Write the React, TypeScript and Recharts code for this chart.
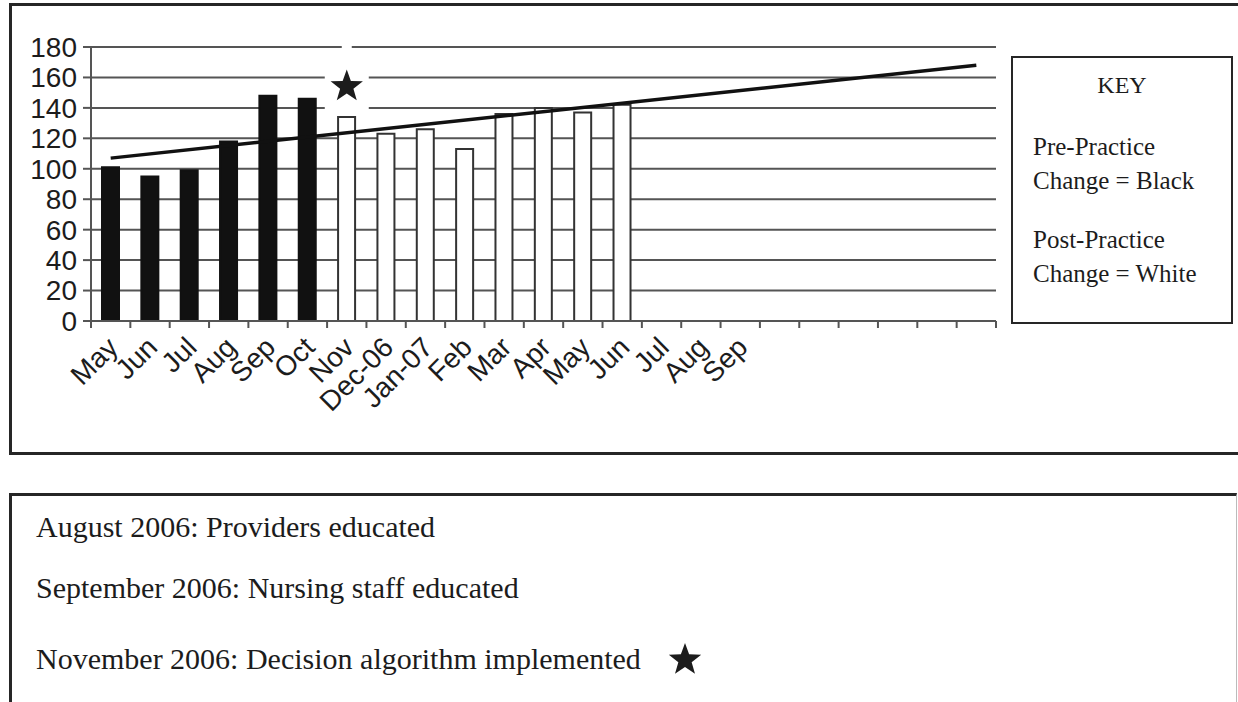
import { ComposedChart, Bar, Line, XAxis, YAxis, CartesianGrid, Cell, ReferenceDot } from "recharts";

// ── Dados ─────────────────────────────────────────────────────────────────────
const periods = [
  "2006-05", "2006-06", "2006-07", "2006-08", "2006-09", "2006-10", "2006-11", "2006-12",
  "2007-01", "2007-02", "2007-03", "2007-04", "2007-05", "2007-06", "2007-07", "2007-08",
  "2007-09", "2007-10", "2007-11", "2007-12", "2008-01", "2008-02", "2008-03",
];
const tickLabels = [
  "May", "Jun", "Jul", "Aug", "Sep", "Oct", "Nov", "Dec-06", "Jan-07", "Feb", "Mar", "Apr",
  "May", "Jun", "Jul", "Aug", "Sep", "", "", "", "", "", "",
];
const preCounts = [101, 95, 99, 118, 148, 146];
const postCounts = [134, 123, 126, 113, 136, 140, 137, 142];
const trendStart = 107;
const trendEnd = 168;
const yTicks = [0, 20, 40, 60, 80, 100, 120, 140, 160, 180];
const starPeriod = "2006-11";
const starValue = 154;

const counts = [...preCounts, ...postCounts];
const data = periods.map((p, i) => ({
  period: p,
  count: i < counts.length ? counts[i] : null,
  trend: i === 0 ? trendStart : i === periods.length - 1 ? trendEnd : null,
}));

// ── Layout ────────────────────────────────────────────────────────────────────
const W = 1238, CH = 460;
const MARGIN = { top: 47, right: 242, bottom: 39, left: 11 };
const Y_W = 80, X_H = 100;
const PLOT_W = W - MARGIN.left - Y_W - MARGIN.right;
const STEP = PLOT_W / periods.length;
const AXIS = "#555";
const INK = "#1c1c1c";

function starPoints(cx: number, cy: number, R: number, r: number) {
  const pts: string[] = [];
  for (let i = 0; i < 10; i++) {
    const a = -Math.PI / 2 + (i * Math.PI) / 5;
    const rad = i % 2 === 0 ? R : r;
    pts.push(`${cx + rad * Math.cos(a)},${cy + rad * Math.sin(a)}`);
  }
  return pts.join(" ");
}

function MonthTick(props: any) {
  const { x, y, payload } = props;
  const idx = periods.indexOf(payload.value);
  const half = STEP / 2;
  const ay = y - 2;
  return (
    <g>
      <line x1={x - half} x2={x - half} y1={ay} y2={ay + 7} stroke={AXIS} strokeWidth={2} />
      {idx === periods.length - 1 && (
        <line x1={x + half} x2={x + half} y1={ay} y2={ay + 7} stroke={AXIS} strokeWidth={2} />
      )}
      <text
        transform={`translate(${x + 9},${ay + 28}) rotate(-45)`}
        textAnchor="end"
        fontFamily="'Liberation Sans', Arial, sans-serif"
        fontSize={28}
        fill={INK}
      >
        {tickLabels[idx]}
      </text>
    </g>
  );
}

function StarMark(props: any) {
  const { cx, cy } = props;
  if (cx == null || cy == null) return null;
  return (
    <g>
      <rect x={cx - 5} y={cy - 44} width={10} height={20} fill="#fff" />
      <rect x={cx - 22} y={cy - 26} width={44} height={52} fill="#fff" />
      <polygon points={starPoints(cx, cy, 17, 7)} fill={INK} />
    </g>
  );
}

const serif = "'Liberation Serif', 'Times New Roman', serif";

export default function App() {
  return (
    <div style={{ position: "absolute", left: 0, top: 0, width: W, height: 702, background: "#fff", overflow: "hidden" }}>
      {/* moldura superior */}
      <div style={{ position: "absolute", left: 9, top: 3, width: 1240, height: 446, border: "3px solid #262626" }} />

      <div style={{ position: "absolute", left: 0, top: 0 }}>
        <ComposedChart width={W} height={CH} data={data} margin={MARGIN}>
          <CartesianGrid vertical={false} stroke={AXIS} strokeWidth={2} />
          <XAxis
            dataKey="period"
            interval={0}
            tickLine={false}
            tickSize={0}
            height={X_H}
            axisLine={{ stroke: AXIS, strokeWidth: 2 }}
            tick={<MonthTick />}
          />
          <YAxis
            domain={[0, 180]}
            ticks={yTicks}
            width={Y_W}
            interval={0}
            axisLine={{ stroke: AXIS, strokeWidth: 2 }}
            tickLine={{ stroke: AXIS, strokeWidth: 2 }}
            tickSize={8}
            tickMargin={6}
            tick={{ fontFamily: "'Liberation Sans', Arial, sans-serif", fontSize: 28, fill: INK }}
          />
          <YAxis
            yAxisId="r"
            orientation="right"
            domain={[0, 180]}
            width={0}
            tick={false}
            tickLine={false}
            axisLine={{ stroke: AXIS, strokeWidth: 2 }}
          />
          <Bar dataKey="count" barSize={17} isAnimationActive={false}>
            {data.map((d, i) => (
              <Cell
                key={d.period}
                fill={i < preCounts.length ? "#111" : "#fff"}
                stroke={d.count == null ? "none" : i < preCounts.length ? "#111" : "#333"}
                strokeWidth={2}
              />
            ))}
          </Bar>
          <Line
            dataKey="trend"
            connectNulls
            stroke="#111"
            strokeWidth={3.5}
            dot={false}
            activeDot={false}
            isAnimationActive={false}
          />
          <ReferenceDot x={starPeriod} y={starValue} shape={<StarMark />} />
        </ComposedChart>
      </div>

      {/* KEY */}
      <div
        style={{
          position: "absolute", left: 1011, top: 56, width: 218, height: 264,
          border: "2px solid #262626", fontFamily: serif, fontSize: 25, color: INK,
        }}
      >
        <div style={{ position: "absolute", top: 14, width: "100%", textAlign: "center", fontSize: 24 }}>KEY</div>
        <div style={{ position: "absolute", left: 20, top: 72, lineHeight: "34px" }}>
          Pre-Practice<br />Change = Black
        </div>
        <div style={{ position: "absolute", left: 20, top: 165, lineHeight: "34px" }}>
          Post-Practice<br />Change = White
        </div>
      </div>

      {/* moldura inferior */}
      <div
        style={{
          position: "absolute", left: 9, top: 493, width: 1224, height: 260,
          borderLeft: "3px solid #262626", borderTop: "3px solid #262626", borderRight: "1px solid #bbb",
          fontFamily: serif, fontSize: 30, color: INK,
        }}
      >
        <div style={{ position: "absolute", left: 24, top: 14 }}>August 2006: Providers educated</div>
        <div style={{ position: "absolute", left: 24, top: 75 }}>September 2006: Nursing staff educated</div>
        <div style={{ position: "absolute", left: 24, top: 145, display: "flex", alignItems: "center" }}>
          November 2006: Decision algorithm implemented
          <svg width={40} height={36} style={{ marginLeft: 24 }}>
            <polygon points={starPoints(20, 19, 17, 7)} fill={INK} />
          </svg>
        </div>
      </div>
    </div>
  );
}
